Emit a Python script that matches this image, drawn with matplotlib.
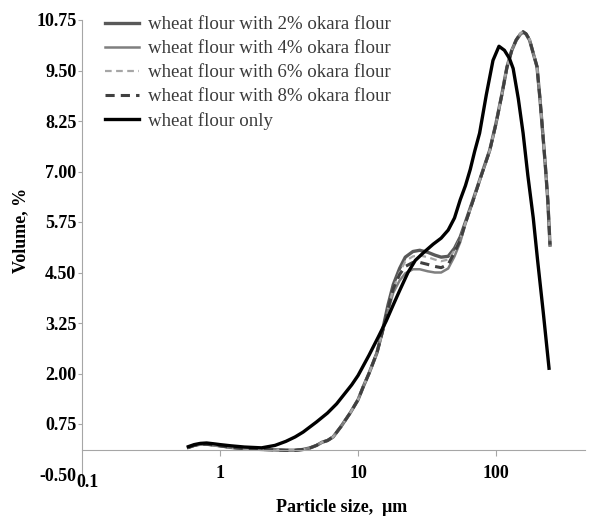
import matplotlib
matplotlib.use("Agg")
import matplotlib.pyplot as plt
from matplotlib.ticker import NullLocator, FixedLocator

plt.rcParams['font.family'] = ['Liberation Serif', 'DejaVu Serif']

# ---- data -------------------------------------------------------------
size_only = [0.59, 0.65, 0.72, 0.8, 0.9, 1.0, 1.2, 1.5, 2.0, 2.5, 3.0, 3.5, 4.0, 5.0,
             6.0, 7.0, 8.0, 9.0, 10, 12, 14, 16, 18, 20, 23, 26, 30, 35, 40, 45,
             50, 55, 60, 65, 70, 76, 85, 95, 105, 115, 125, 133, 145, 157, 170,
             186, 200, 220, 242]
vol_only = [0.19, 0.24, 0.27, 0.28, 0.26, 0.24, 0.21, 0.18, 0.16, 0.22, 0.32, 0.43,
            0.55, 0.8, 1.02, 1.25, 1.5, 1.72, 1.95, 2.45, 2.9, 3.3, 3.7, 4.05, 4.5,
            4.8, 5.0, 5.2, 5.35, 5.55, 5.85, 6.3, 6.65, 7.05, 7.5, 7.95, 8.9, 9.75,
            10.1, 10.0, 9.8, 9.55, 8.8, 7.95, 6.9, 5.85, 4.8, 3.5, 2.13]

size_okara = [0.59, 0.65, 0.72, 0.8, 0.9, 1.0, 1.2, 1.5, 2.0, 2.5, 3.0, 3.5, 4.0, 4.5,
              5.0, 5.5, 6.0, 6.6, 7.5, 8.76, 10, 10.9, 12, 13.7, 15, 16.5, 18, 20,
              22, 25, 28, 32, 36, 40, 45, 50, 55, 60, 68, 78, 90, 100, 110, 120,
              130, 140, 150, 157, 165, 175, 185, 198, 208, 218, 228, 237, 246]
vol_2 = [0.17, 0.22, 0.25, 0.25, 0.23, 0.21, 0.17, 0.14, 0.12, 0.11, 0.10, 0.10, 0.12,
         0.16, 0.22, 0.30, 0.34, 0.43, 0.68, 1.02, 1.35, 1.67, 2.0, 2.51, 3.05, 3.7,
         4.2, 4.6, 4.88, 5.02, 5.05, 5.0, 4.93, 4.88, 4.9, 5.1, 5.38, 5.75, 6.29,
         6.9, 7.53, 8.2, 8.9, 9.59, 10.0, 10.25, 10.4, 10.45, 10.4, 10.25, 9.95,
         9.59, 8.8, 7.95, 7.1, 6.29, 5.18]
vol_4 = [0.17, 0.22, 0.25, 0.25, 0.23, 0.21, 0.17, 0.14, 0.12, 0.11, 0.10, 0.10, 0.12,
         0.16, 0.22, 0.30, 0.34, 0.43, 0.68, 1.02, 1.35, 1.67, 2.0, 2.51, 3.0, 3.55,
         4.0, 4.3, 4.48, 4.58, 4.58, 4.53, 4.5, 4.5, 4.6, 4.9, 5.25, 5.7, 6.25,
         6.88, 7.5, 8.18, 8.88, 9.57, 10.0, 10.25, 10.4, 10.45, 10.4, 10.25, 9.95,
         9.59, 8.8, 7.95, 7.1, 6.29, 5.18]
vol_6 = [0.17, 0.22, 0.25, 0.25, 0.23, 0.21, 0.17, 0.14, 0.12, 0.11, 0.10, 0.10, 0.12,
         0.16, 0.22, 0.30, 0.34, 0.43, 0.68, 1.02, 1.35, 1.67, 2.0, 2.51, 3.02, 3.62,
         4.1, 4.5, 4.78, 4.9, 4.92, 4.88, 4.82, 4.78, 4.82, 5.05, 5.35, 5.73, 6.28,
         6.9, 7.52, 8.2, 8.9, 9.6, 10.02, 10.28, 10.42, 10.47, 10.42, 10.27, 9.97,
         9.6, 8.82, 7.97, 7.12, 6.3, 5.2]
vol_8 = [0.17, 0.22, 0.25, 0.25, 0.23, 0.21, 0.17, 0.14, 0.12, 0.11, 0.10, 0.10, 0.12,
         0.16, 0.22, 0.30, 0.34, 0.43, 0.68, 1.02, 1.35, 1.67, 2.0, 2.51, 3.02, 3.6,
         4.1, 4.45, 4.65, 4.75, 4.75, 4.7, 4.65, 4.62, 4.7, 5.0, 5.3, 5.72, 6.27,
         6.89, 7.52, 8.19, 8.89, 9.58, 10.0, 10.26, 10.41, 10.46, 10.41, 10.26, 9.96,
         9.6, 8.81, 7.96, 7.11, 6.3, 5.19]

series_labels = ['wheat flour with 2% okara flour', 'wheat flour with 4% okara flour',
                 'wheat flour with 6% okara flour', 'wheat flour with 8% okara flour',
                 'wheat flour only']
y_ticks = [-0.5, 0.75, 2.0, 3.25, 4.5, 5.75, 7.0, 8.25, 9.5, 10.75]
x_ticks = [1, 10, 100]
x_tick_labels = ['1', '10', '100']

# ---- figure -----------------------------------------------------------
W, H = 589, 516
fig = plt.figure(figsize=(W / 100, H / 100), dpi=100)
ax = fig.add_axes([82 / W, (H - 474.5) / H, (585 - 82) / W, (474.5 - 20) / H])

h2, = ax.plot(size_okara, vol_2, color='#595959', lw=2.4)
h4, = ax.plot(size_okara, vol_4, color='#7f7f7f', lw=1.8)
h6, = ax.plot(size_okara, vol_6, color='#a6a6a6', lw=1.6, ls=(0, (3, 2)))
h8, = ax.plot(size_okara, vol_8, color='#404040', lw=2.2, ls=(0, (3, 2)))
h0, = ax.plot(size_only, vol_only, color='#000000', lw=2.4)

ax.set_xscale('log')
ax.set_xlim(0.1, 441)
ax.set_ylim(-0.5, 10.75)

for s in ('top', 'right'):
    ax.spines[s].set_visible(False)
ax.spines['left'].set_color('#a6a6a6')
ax.spines['left'].set_linewidth(0.8)
ax.spines['bottom'].set_color('#a6a6a6')
ax.spines['bottom'].set_linewidth(0.8)
ax.spines['bottom'].set_position(('data', 0.1))

ax.set_yticks(y_ticks)
ax.set_yticklabels(['%.2f' % v for v in y_ticks])
ax.xaxis.set_major_locator(FixedLocator(x_ticks))
ax.xaxis.set_minor_locator(NullLocator())
ax.set_xticklabels(x_tick_labels)
ax.tick_params(axis='y', direction='out', length=3, width=0.8, color='#a6a6a6',
               pad=1, labelsize=13)
ax.tick_params(axis='x', direction='out', length=4, width=0.8, color='#a6a6a6',
               pad=6.3, labelsize=13)
for lbl in ax.get_xticklabels() + ax.get_yticklabels():
    lbl.set_fontweight('bold')

ax.annotate('0.1', xy=(0.1, 0.1), xycoords='data', xytext=(4, -17),
            textcoords='offset points', ha='center', va='top',
            fontsize=13, fontweight='bold')

ax.set_ylabel('Volume, %', fontsize=13, fontweight='bold')
ax.yaxis.set_label_coords((21 - 82) / 503, (474.5 - 230) / 454.5)
ax.yaxis.label.set_va('center')
ax.set_xlabel('Particle size,  \u03bcm', fontsize=13, fontweight='bold')
ax.xaxis.set_label_coords((342 - 82) / 503, (474.5 - 507) / 454.5)
ax.xaxis.label.set_va('center')

leg = ax.legend([h2, h4, h6, h8, h0], series_labels, loc='upper left',
                bbox_to_anchor=(105 / W, 1 - 16 / H), bbox_transform=fig.transFigure,
                frameon=False, borderpad=0, borderaxespad=0, handlelength=1.8,
                handletextpad=0.45, labelspacing=0.36,
                prop={'family': 'Liberation Serif', 'size': 13.6})
for t in leg.get_texts():
    t.set_color('#3a3a3a')

fig.savefig('out.png', dpi=100)
